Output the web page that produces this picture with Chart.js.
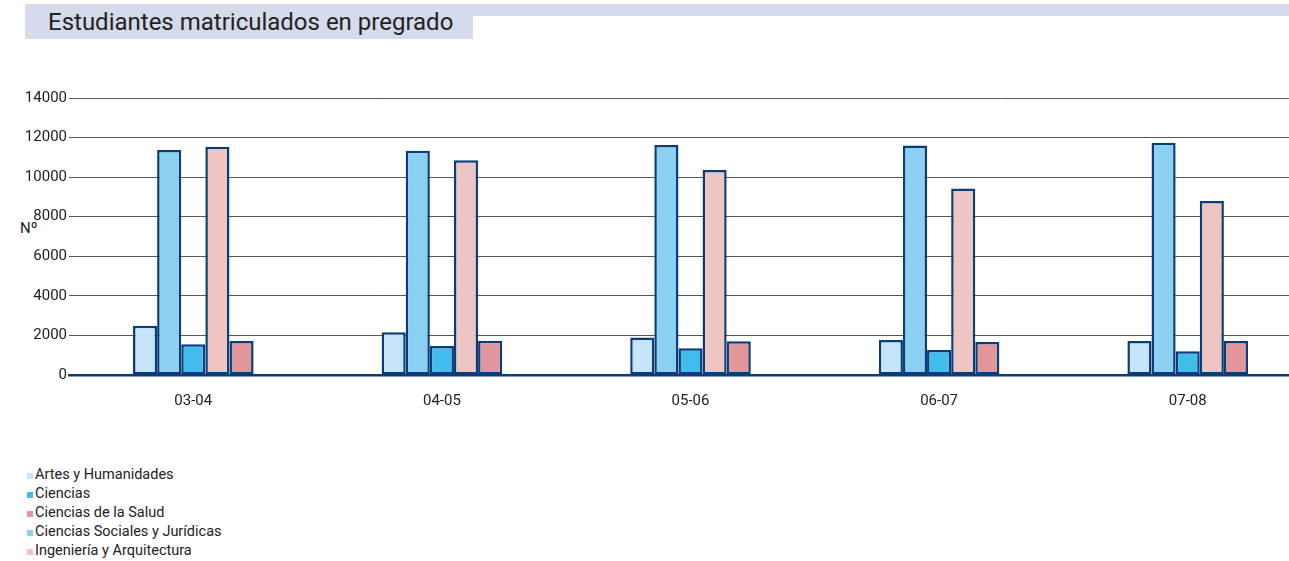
<!DOCTYPE html>
<html>
<head>
<meta charset="utf-8">
<script src="https://cdn.jsdelivr.net/npm/chart.js@4.4.1/dist/chart.umd.min.js"></script>
<style>
    html, body { margin: 0; padding: 0; background: #fff; overflow: hidden; }
    body { width: 1289px; height: 561px; position: relative; font-family: Roboto, 'Liberation Sans', sans-serif; color: #222; }
    .banner { position: absolute; left: 25px; top: 4px; width: 448px; height: 35px; background: #d5dbea; }
    .strip { position: absolute; left: 473px; top: 4px; width: 816px; height: 12px; background: #d5dbea; }
    .title { position: absolute; left: 48px; top: 7px; font-size: 24px; line-height: 30px; color: #222; }
    .ylabel { position: absolute; left: 20px; top: 219px; font-size: 15px; }
    .wrap { position: absolute; left: 0; top: 80px; width: 1312px; height: 332px; }
    .legend { position: absolute; left: 27px; top: 465px; font-size: 14.5px; line-height: 19px; }
    .legend div { white-space: nowrap; }
    .legend span { display: inline-block; width: 6px; height: 6px; margin-right: 2px; }
</style>
</head>
<body>
<div class="banner"></div>
<div class="strip"></div>
<div class="title">Estudiantes matriculados en pregrado</div>
<div class="ylabel">Nº</div>
<div class="wrap"><canvas id="chart"></canvas></div>
<div class="legend" id="legend"></div>
<script>
    var years = ['03-04', '04-05', '05-06', '06-07', '07-08'];
    var yTicks = [0, 2000, 4000, 6000, 8000, 10000, 12000, 14000];

    var artes = [2490, 2160, 1900, 1770, 1720];
    var sociales = [11370, 11330, 11620, 11600, 11740];
    var ciencias = [1550, 1470, 1350, 1260, 1200];
    var ingenieria = [11540, 10860, 10360, 9430, 8790];
    var salud = [1720, 1735, 1700, 1670, 1720];

    // bar order in the picture differs from the legend order
    var series = [
        { label: 'Artes y Humanidades', data: artes, color: '#c6e4f7', legend: 0 },
        { label: 'Ciencias Sociales y Jurídicas', data: sociales, color: '#8bcff1', legend: 3 },
        { label: 'Ciencias', data: ciencias, color: '#41bdec', legend: 1 },
        { label: 'Ingeniería y Arquitectura', data: ingenieria, color: '#edc6c4', legend: 4 },
        { label: 'Ciencias de la Salud', data: salud, color: '#e0969b', legend: 2 }
    ];

    var navy = '#0a3c7a';

    new Chart(document.getElementById('chart').getContext('2d'), {
        type: 'bar',
        data: {
            labels: years,
            datasets: series.map(function (s) {
                return {
                    label: s.label,
                    data: s.data,
                    backgroundColor: s.color,
                    borderColor: navy,
                    borderWidth: 2.5,
                    borderSkipped: false,
                    barPercentage: 1,
                    categoryPercentage: 0.485
                };
            })
        },
        options: {
            responsive: true,
            maintainAspectRatio: false,
            animation: false,
            layout: { padding: { top: 18, right: 0, left: 0, bottom: 0 } },
            plugins: {
                legend: { display: false },
                tooltip: { enabled: false }
            },
            scales: {
                x: {
                    grid: { display: false },
                    border: { display: true, color: navy, width: 2.5 },
                    ticks: {
                        font: { size: 15, family: 'Roboto' },
                        color: '#222',
                        padding: 9,
                        maxRotation: 0
                    },
                    afterFit: function (scale) { scale.height = 37; }
                },
                y: {
                    min: 0,
                    max: 14000,
                    afterBuildTicks: function (scale) {
                        scale.ticks = yTicks.map(function (v) { return { value: v }; });
                    },
                    grid: {
                        color: function (c) { return c.tick && c.tick.value === 0 ? 'rgba(0,0,0,0)' : '#555'; },
                        lineWidth: 1,
                        drawTicks: false
                    },
                    border: { display: false },
                    ticks: {
                        font: { size: 15, family: 'Roboto' },
                        color: '#222',
                        padding: 2,
                        callback: function (v) { return String(v); }
                    },
                    afterFit: function (scale) { scale.width = 69; }
                }
            }
        }
    });

    var legendEl = document.getElementById('legend');
    series.slice().sort(function (a, b) { return a.legend - b.legend; }).forEach(function (s) {
        var row = document.createElement('div');
        var sw = document.createElement('span');
        sw.style.background = s.color;
        row.appendChild(sw);
        row.appendChild(document.createTextNode(s.label));
        legendEl.appendChild(row);
    });
</script>
</body>
</html>
